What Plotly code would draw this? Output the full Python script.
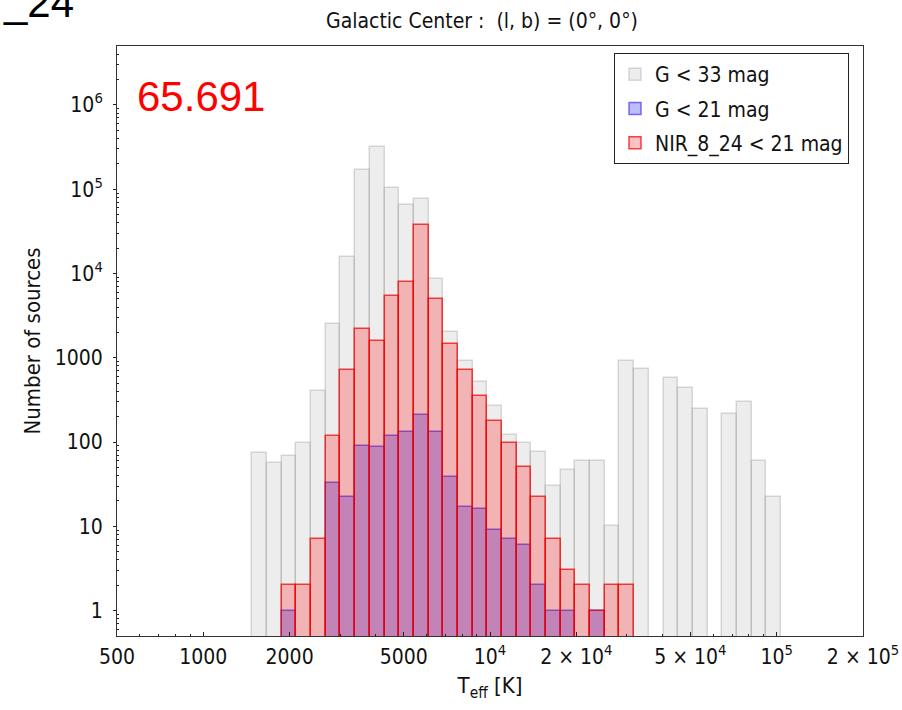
import numpy as np
import plotly.graph_objects as go

# Teff binning: equal widths in log10(Teff)
T_MIN = 1483.0
T_MAX = 103500.0
N_BINS = 36

# Number of sources per Teff bin
counts_g33 = [74, 57, 69, 98, 400, 2500, 15800, 169000, 315000, 102000, 65000, 76000,
              8700, 2040, 910, 512, 267, 122, 98, 77, 30, 47, 59, 59,
              10, 912, 740, 0, 570, 439, 250, 0, 216, 302, 59, 22]
counts_g21 = [0, 0, 1, 0, 0, 33, 22, 89, 87, 117, 133, 210,
              133, 39, 17, 16, 9, 7, 6, 2, 1, 1, 0, 1,
              0, 0, 0, 0, 0, 0, 0, 0, 0, 0, 0, 0]
counts_nir = [0, 0, 2, 2, 7, 119, 714, 2215, 1570, 5370, 7850, 37300,
              5040, 1470, 720, 352, 177, 97, 50, 22, 7, 3, 2, 1,
              2, 2, 0, 0, 0, 0, 0, 0, 0, 0, 0, 0]

series_names = ["G < 33 mag", "G < 21 mag", "NIR_8_24 < 21 mag"]

x_tick_values = [500, 1000, 2000, 5000, 1e4, 2e4, 5e4, 1e5, 2e5]
x_tick_labels = ["500", "1000", "2000", "5000", "10<sup>4</sup>", "2 \u00d7 10<sup>4</sup>",
                 "5 \u00d7 10<sup>4</sup>", "10<sup>5</sup>", "2 \u00d7 10<sup>5</sup>"]
y_tick_values = [1, 10, 100, 1000, 1e4, 1e5, 1e6]
y_tick_labels = ["1", "10", "100", "1000", "10<sup>4</sup>", "10<sup>5</sup>", "10<sup>6</sup>"]

X_RANGE = (500, 2e5)
Y_RANGE = (0.5, 5e6)

label_value = "65.691"
title_text = "Galactic Center :  (l, b) = (0\u00b0, 0\u00b0)"

# ---------------------------------------------------------------------------
log_edges = np.linspace(np.log10(T_MIN), np.log10(T_MAX), N_BINS + 1)
centers = 0.5 * (log_edges[:-1] + log_edges[1:])
widths = np.diff(log_edges)


def nonzero(counts):
    return [c if c > 0 else None for c in counts]


NARROW = "Liberation Sans Narrow, DejaVu Sans Condensed, Liberation Sans, sans-serif"
ARIAL = "Liberation Sans, Arial, sans-serif"

styles = [
    dict(fill="rgba(185,185,185,0.26)", edge="rgba(170,170,170,0.45)"),
    dict(fill="rgba(0,0,255,0.26)", edge="rgba(60,40,230,0.65)"),
    dict(fill="rgba(255,0,0,0.245)", edge="rgba(240,0,0,0.72)"),
]

fig = go.Figure()
for i, (name, counts) in enumerate(zip(series_names, [counts_g33, counts_g21, counts_nir])):
    fig.add_trace(go.Bar(
        x=centers, y=nonzero(counts), width=widths, name=name,
        legendgroup=f"g{i}",
        marker=dict(color=styles[i]["fill"],
                    line=dict(color=styles[i]["edge"], width=1.5)),
    ))

minor_x = []
for dec in [100, 1000, 10000, 100000]:
    for m in range(2, 10):
        v = m * dec
        if X_RANGE[0] < v < X_RANGE[1] and v not in x_tick_values:
            minor_x.append(np.log10(v))
minor_y = [m * 10.0 ** k for k in range(-1, 7) for m in range(2, 10)
           if Y_RANGE[0] < m * 10.0 ** k < Y_RANGE[1]]

fig.update_layout(
    width=902, height=710,
    margin=dict(l=117, r=39, t=46, b=74),
    paper_bgcolor="white", plot_bgcolor="white",
    barmode="overlay", bargap=0,
    showlegend=True,
    legend=dict(x=(614 - 117) / 746, y=(636 - 53) / 590, xanchor="left", yanchor="top",
                bordercolor="#222222", borderwidth=1, bgcolor="white",
                font=dict(family=NARROW, size=21, color="#111111"),
                tracegroupgap=4, itemwidth=30),
    title=dict(text=title_text, x=482 / 902, xanchor="center", xref="container",
               y=1 - 21 / 710, yanchor="middle",
               font=dict(family=NARROW, size=21, color="#111111")),
    font=dict(family=NARROW, color="#111111"),
)

fig.update_xaxes(
    range=[np.log10(X_RANGE[0]), np.log10(X_RANGE[1])],
    tickmode="array", tickvals=np.log10(x_tick_values), ticktext=x_tick_labels,
    ticks="inside", ticklen=4, tickwidth=1, tickcolor="#222222",
    tickfont=dict(family=NARROW, size=21, color="#111111"),
    ticklabeloverflow="allow", ticklabelstandoff=2, automargin=False,
    showline=True, linecolor="#333333", linewidth=1, mirror=True,
    showgrid=False, zeroline=False,
    minor=dict(tickvals=minor_x, ticks="inside", ticklen=2, tickcolor="#222222", showgrid=False),
    title=dict(text="T<sub>eff</sub> [K]", font=dict(family=NARROW, size=22, color="#111111"),
               standoff=9),
)
fig.update_yaxes(
    type="log",
    range=[np.log10(Y_RANGE[0]), np.log10(Y_RANGE[1])],
    tickmode="array", tickvals=y_tick_values, ticktext=y_tick_labels,
    ticks="outside", ticklen=3, tickwidth=1, tickcolor="#222222",
    tickfont=dict(family=NARROW, size=21, color="#111111"),
    ticklabelstandoff=6, automargin=False,
    showline=True, linecolor="#333333", linewidth=1, mirror=True,
    showgrid=False, zeroline=False,
    minor=dict(tickvals=minor_y, ticks="inside", ticklen=2, tickcolor="#222222", showgrid=False),
    title=dict(text="Number of sources", font=dict(family=NARROW, size=22, color="#111111"),
               standoff=8),
)

fig.add_annotation(text=label_value, xref="paper", yref="paper",
                   x=(135 - 117) / 746, y=(636 - 96) / 590, xanchor="left", yanchor="middle",
                   showarrow=False, font=dict(family=ARIAL, size=42, color="#ff0000"))
fig.add_annotation(text="_24", xref="paper", yref="paper",
                   x=(76 - 117) / 746, y=(636 - 2) / 590, xanchor="right", yanchor="middle",
                   showarrow=False, font=dict(family=ARIAL, size=42, color="#000000"))

fig.write_html("out.html")
